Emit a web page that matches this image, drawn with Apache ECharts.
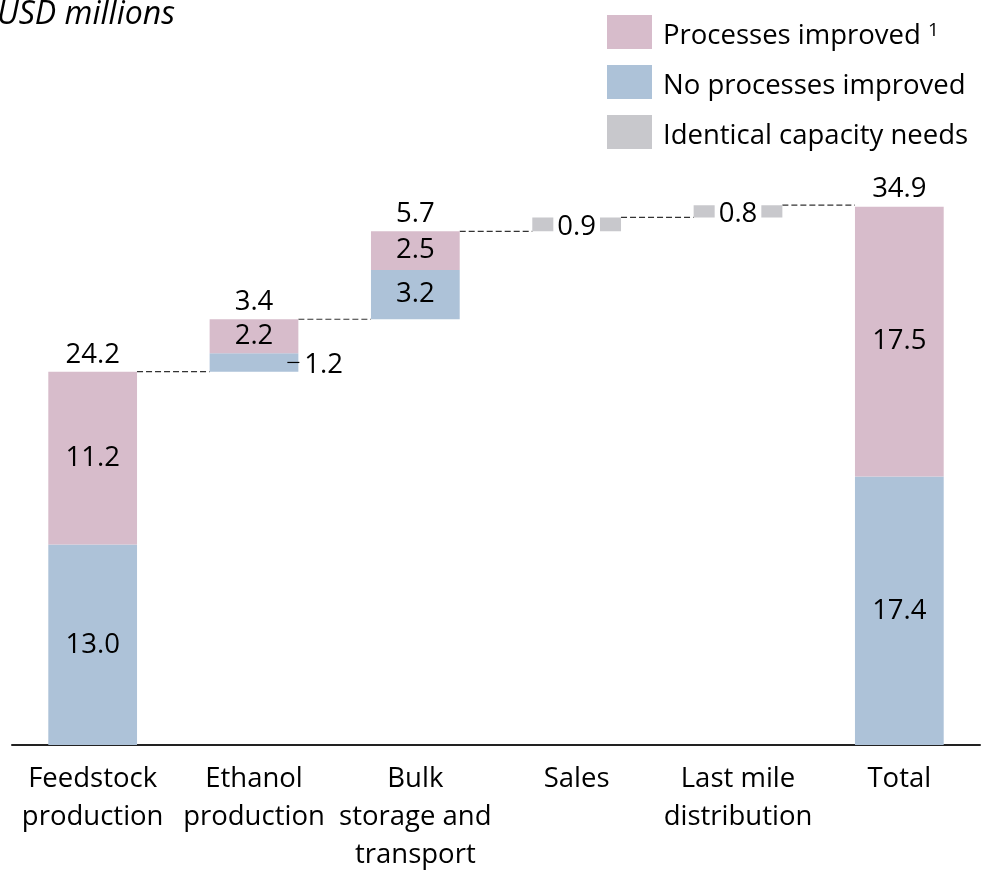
<!DOCTYPE html>
<html>
<head>
<meta charset="utf-8">
<script src="https://cdn.jsdelivr.net/npm/echarts@6/dist/echarts.min.js"></script>
<style>
html,body{margin:0;padding:0;background:#fff;}
#chart{width:989px;height:872px;}
</style>
</head>
<body>
<div id="chart"></div>
<script>
// ---- data ----
const categories = ['Feedstock\nproduction', 'Ethanol\nproduction', 'Bulk\nstorage and\ntransport', 'Sales', 'Last mile\ndistribution', 'Total'];
const noProcessesImproved = [13.0, 1.2, 3.2, null, null, 17.4];
const processesImproved = [11.2, 2.2, 2.5, null, null, 17.5];
const identicalCapacity = [null, null, null, 0.9, 0.8, null];
const stepLabels = ['24.2', '3.4', '5.7', null, null, '34.9'];
const seriesNames = ['Processes improved', 'No processes improved', 'Identical capacity needs'];

// ---- derived ----
const FONT = '"Open Sans", "Noto Sans", sans-serif';
const FS = 27.5;
const isTotal = i => i === categories.length - 1;
const steps = categories.map((c, i) => (noProcessesImproved[i] || 0) + (processesImproved[i] || 0) + (identicalCapacity[i] || 0));
const bases = [];
const tops = [];
let run = 0;
categories.forEach((c, i) => {
  if (isTotal(i)) { bases.push(0); tops.push(steps[i]); }
  else { bases.push(run); run += steps[i]; tops.push(run); }
});
const BAR_RATIO = 0.55;

const connectorData = [];
for (let i = 0; i < categories.length - 1; i++) connectorData.push([i, tops[i]]);
const topLabelData = [];
stepLabels.forEach((t, i) => { if (t !== null) topLabelData.push([i, tops[i], t]); });

const chart = echarts.init(document.getElementById('chart'));
chart.setOption({
  animation: false,
  backgroundColor: '#fff',
  textStyle: { fontFamily: FONT },
  title: {
    text: 'USD millions', left: -3, top: -1, padding: 0,
    textStyle: { fontFamily: FONT, fontSize: 32, fontStyle: 'italic', fontWeight: 'normal', color: '#000' }
  },
  legend: {
    data: seriesNames,
    orient: 'vertical', left: 607, top: 15, padding: 0,
    itemWidth: 45, itemHeight: 34, itemGap: 15,
    icon: 'rect',
    formatter: n => n === 'Processes improved' ? '{n|' + n + '} {s|1}' : '{n|' + n + '}',
    textStyle: {
      fontFamily: FONT, fontSize: FS, color: '#000', padding: [8, 0, 0, 6],
      rich: { n: { fontFamily: FONT, fontSize: FS, color: '#000' }, s: { fontFamily: FONT, fontSize: 19, color: '#000', padding: [0, 0, 10, 0] } }
    }
  },
  grid: { left: 12, right: 9, top: 128, bottom: 127, containLabel: false, outerBoundsMode: 'none' },
  xAxis: {
    type: 'category', data: categories,
    axisLine: { show: true, lineStyle: { color: '#222', width: 2 } },
    axisTick: { show: false },
    axisLabel: { fontFamily: FONT, fontSize: FS, color: '#000', lineHeight: 38, margin: 15, interval: 0 }
  },
  yAxis: { type: 'value', min: 0, max: 40, show: false, splitLine: { show: false } },
  series: [
    {
      name: 'base', type: 'bar', stack: 'w', barWidth: (BAR_RATIO * 100) + '%', silent: true,
      itemStyle: { color: 'transparent' }, data: bases
    },
    {
      name: 'No processes improved', type: 'bar', stack: 'w', barWidth: (BAR_RATIO * 100) + '%',
      itemStyle: { color: '#ADC2D8' },
      label: { show: true, position: 'inside', fontFamily: FONT, fontSize: FS, color: '#000', formatter: p => p.value.toFixed(1) },
      data: noProcessesImproved.map((v, i) => i === 1 ? { value: v, label: { position: 'right', distance: 6, offset: [0, 3] } } : v)
    },
    {
      name: 'Processes improved', type: 'bar', stack: 'w', barWidth: (BAR_RATIO * 100) + '%',
      itemStyle: { color: '#D7BCCB' },
      label: { show: true, position: 'inside', fontFamily: FONT, fontSize: FS, color: '#000', formatter: p => p.value.toFixed(1) },
      data: processesImproved
    },
    {
      name: 'Identical capacity needs', type: 'bar', stack: 'w', barWidth: (BAR_RATIO * 100) + '%',
      itemStyle: { color: '#C8C8CC' },
      label: { show: true, position: 'inside', fontFamily: FONT, fontSize: FS, color: '#000', backgroundColor: '#fff', padding: [0, 4], offset: [0, 3], formatter: p => p.value.toFixed(1) },
      data: identicalCapacity
    },
    {
      name: 'connectors', type: 'custom', silent: true, z: 1,
      data: connectorData,
      renderItem: (params, api) => {
        const p = api.coord([api.value(0), api.value(1)]);
        const bw = api.size([1, 0])[0];
        const half = bw * BAR_RATIO / 2;
        return {
          type: 'line',
          shape: { x1: p[0] + half, y1: p[1], x2: p[0] + bw - half, y2: p[1] },
          style: { stroke: '#333', lineWidth: 1.2, lineDash: [6, 3] }
        };
      }
    },
    {
      name: 'tick', type: 'custom', silent: true, z: 5,
      data: [[1, bases[1] + noProcessesImproved[1] / 2]],
      renderItem: (params, api) => {
        const p = api.coord([api.value(0), api.value(1)]);
        const bw = api.size([1, 0])[0];
        const half = bw * BAR_RATIO / 2;
        return {
          type: 'line',
          shape: { x1: p[0] + half - 11, y1: p[1], x2: p[0] + half + 1, y2: p[1] },
          style: { stroke: '#000', lineWidth: 1.2 }
        };
      }
    },
    {
      name: 'topLabels', type: 'custom', silent: true, z: 5,
      data: topLabelData,
      renderItem: (params, api) => {
        const p = api.coord([api.value(0), api.value(1)]);
        return {
          type: 'text',
          style: {
            text: topLabelData[params.dataIndex][2], x: p[0], y: p[1] - 3,
            fill: '#000', font: FS + 'px ' + FONT,
            align: 'center', verticalAlign: 'bottom', textAlign: 'center', textVerticalAlign: 'bottom'
          }
        };
      }
    }
  ]
});
</script>
</body>
</html>
